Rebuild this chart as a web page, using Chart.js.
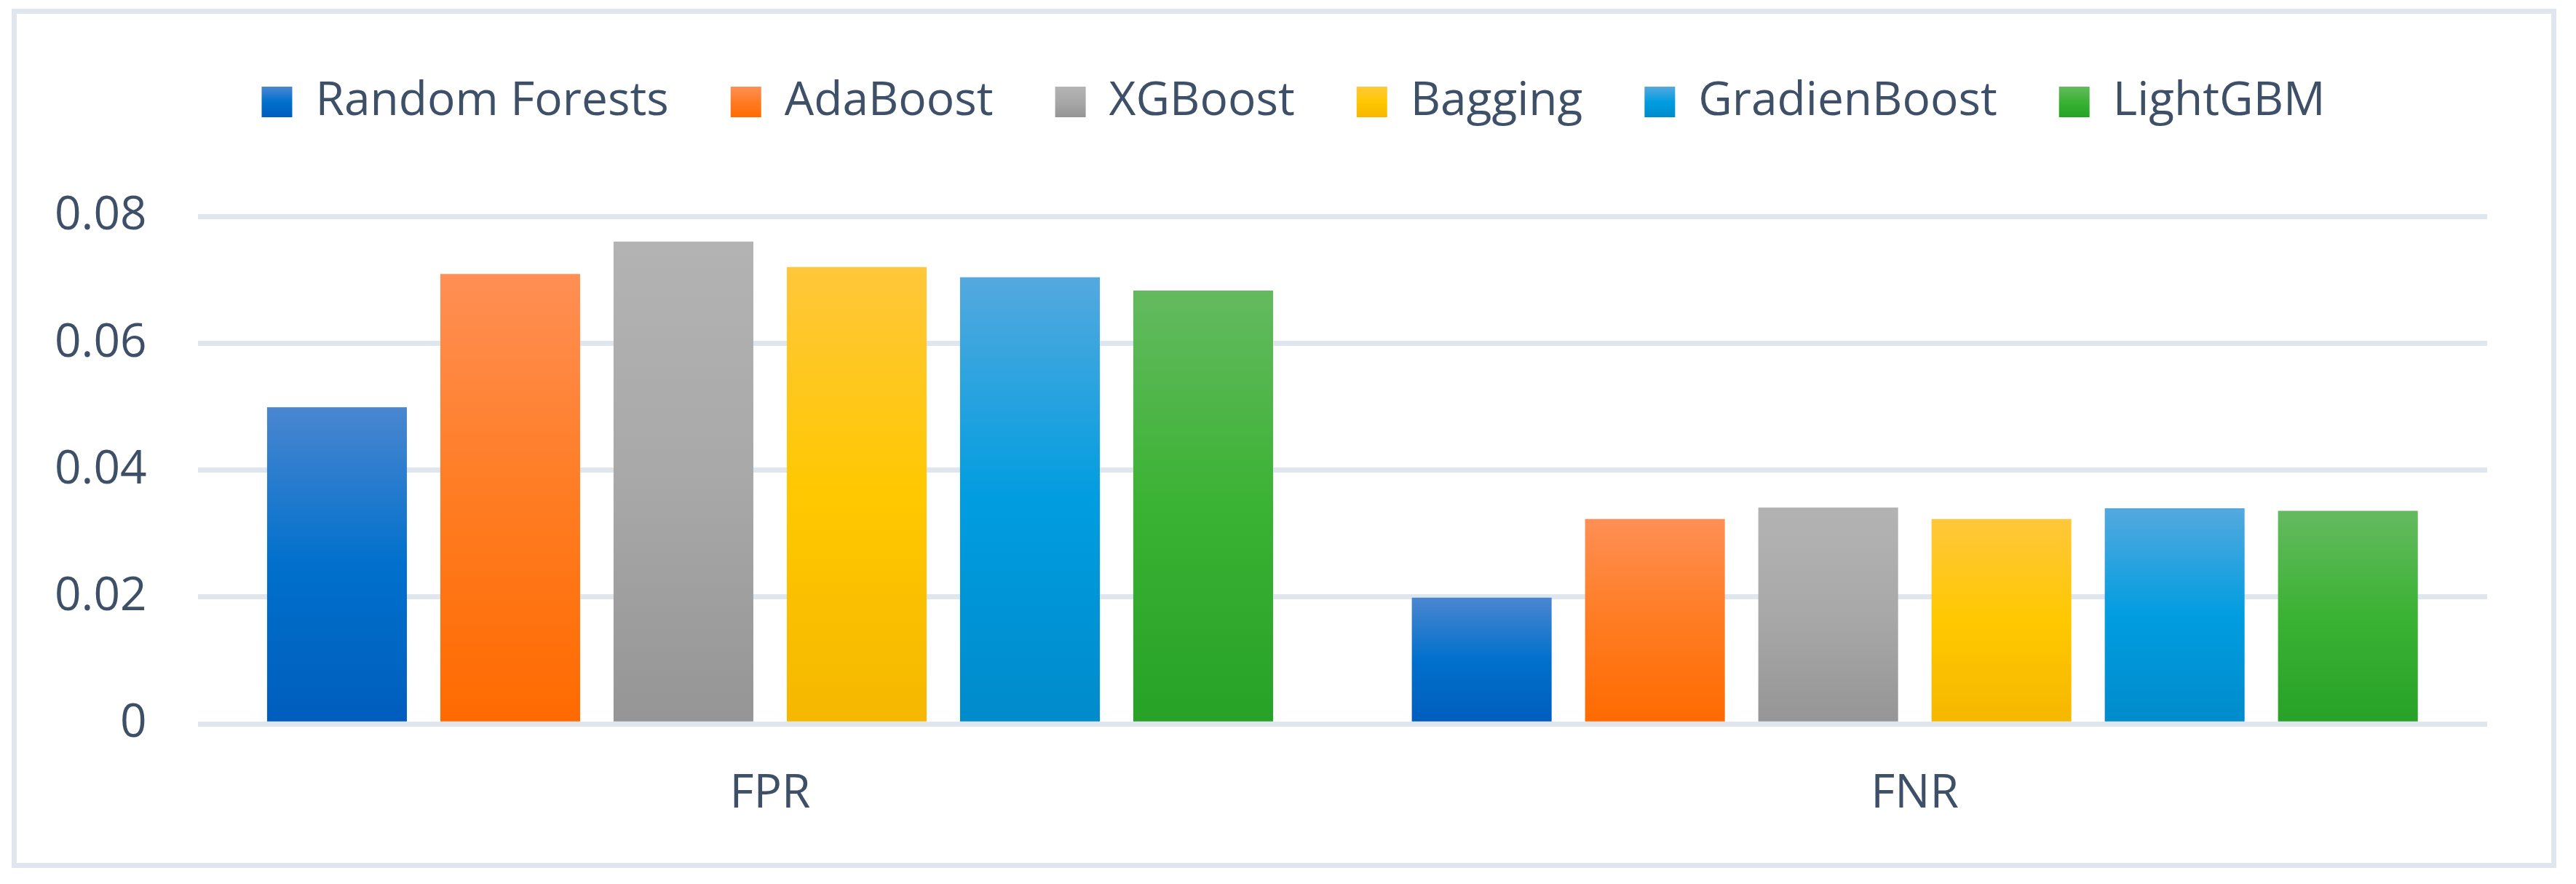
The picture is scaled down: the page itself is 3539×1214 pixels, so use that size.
<!DOCTYPE html>
<html>
<head>
<meta charset="utf-8">
<script src="https://cdn.jsdelivr.net/npm/chart.js@4"></script>
<style>
  html, body { margin: 0; padding: 0; background: #fff; }
  #wrap { position: relative; width: 3539px; height: 1214px; }
  #frame { position: absolute; left: 16px; top: 12px; width: 3496px; height: 1180px;
           border: 7px solid #e0e6ed; box-sizing: border-box; }
  #cv { position: absolute; left: 0; top: 0; }
</style>
</head>
<body>
<div id="wrap">
  <div id="frame"></div>
  <canvas id="cv" width="3539" height="1214"></canvas>
</div>
<script>
// FPR / FNR per model
const categories = ["FPR", "FNR"];
const seriesNames = ["Random Forests", "AdaBoost", "XGBoost", "Bagging", "GradienBoost", "LightGBM"];
const randomForests = [0.0499, 0.0199];
const adaBoost = [0.0709, 0.0323];
const xgBoost = [0.0760, 0.0341];
const bagging = [0.0720, 0.0323];
const gradienBoost = [0.0704, 0.0340];
const lightGBM = [0.0683, 0.0336];
const yTickLabels = ["0", "0.02", "0.04", "0.06", "0.08"];

// top / middle / bottom of each bar gradient
const palette = [
  ["#4a86d0", "#0070cc", "#005dbd"],
  ["#ff8f55", "#ff7c22", "#ff6a00"],
  ["#b3b3b3", "#a8a8a8", "#959595"],
  ["#ffc73a", "#ffc800", "#f5b700"],
  ["#54a9de", "#009de0", "#008bcb"],
  ["#64ba5f", "#3ab233", "#27a127"],
];

const TEXT = "#3e5068";
const GRID = "#e0e6ed";
const LEGEND_PAD = 85;

function gradient(chart, top, bottom, pal) {
  const g = chart.ctx.createLinearGradient(0, top, 0, bottom);
  g.addColorStop(0, pal[0]);
  g.addColorStop(0.5, pal[1]);
  g.addColorStop(1, pal[2]);
  return g;
}

// each bar gets its own top-to-bottom gradient
function barFill(c) {
  const pal = palette[c.datasetIndex];
  const chart = c.chart;
  if (!chart.chartArea || c.type !== "data" || !c.parsed) return pal[1];
  const y = chart.scales.y;
  return gradient(chart, y.getPixelForValue(c.parsed.y), y.getPixelForValue(0), pal);
}

// more room under the legend, and nudge it a bit to the right
const legendTweak = {
  id: "legendTweak",
  beforeInit(chart) {
    const fit = chart.legend.fit;
    chart.legend.fit = function () {
      fit.bind(chart.legend)();
      this.height += 115;
    };
  },
  afterLayout(chart) {
    chart.legend.left += 66;
    chart.legend.right += 66;
  },
};

Chart.defaults.font.family = "'Open Sans', sans-serif";
Chart.defaults.font.size = 64;
Chart.defaults.color = TEXT;

const values = [randomForests, adaBoost, xgBoost, bagging, gradienBoost, lightGBM];

new Chart(document.getElementById("cv"), {
  type: "bar",
  data: {
    labels: categories,
    datasets: seriesNames.map((name, i) => ({
      label: name,
      data: values[i],
      backgroundColor: barFill,
      borderWidth: 0,
      categoryPercentage: 0.908,
      barPercentage: 0.807,
    })),
  },
  options: {
    responsive: false,
    animation: false,
    layout: { padding: { top: 23, left: 5, right: 122, bottom: 35 } },
    plugins: {
      tooltip: { enabled: false },
      legend: {
        position: "top",
        labels: {
          boxWidth: 42,
          boxHeight: 42,
          padding: LEGEND_PAD,
          color: TEXT,
          font: { size: 64 },
          generateLabels(chart) {
            const items = Chart.defaults.plugins.legend.labels.generateLabels(chart);
            const lg = chart.legend;
            items.forEach((it, i) => {
              if (lg && Number.isFinite(lg.top)) {
                const top = lg.top + LEGEND_PAD + 11;
                it.fillStyle = gradient(chart, top, top + 42, palette[i]);
              } else {
                it.fillStyle = palette[i][1];
              }
              it.lineWidth = 0;
            });
            return items;
          },
        },
      },
    },
    scales: {
      x: {
        grid: { display: false },
        border: { display: false },
        ticks: { padding: 50, color: TEXT, font: { size: 64 } },
      },
      y: {
        min: 0,
        max: 0.08,
        border: { display: false },
        grid: { color: GRID, lineWidth: 7, drawTicks: false },
        ticks: {
          stepSize: 0.02,
          padding: 70,
          color: TEXT,
          font: { size: 64 },
          callback: (v, i) => yTickLabels[i],
        },
      },
    },
  },
  plugins: [legendTweak],
});
</script>
</body>
</html>
